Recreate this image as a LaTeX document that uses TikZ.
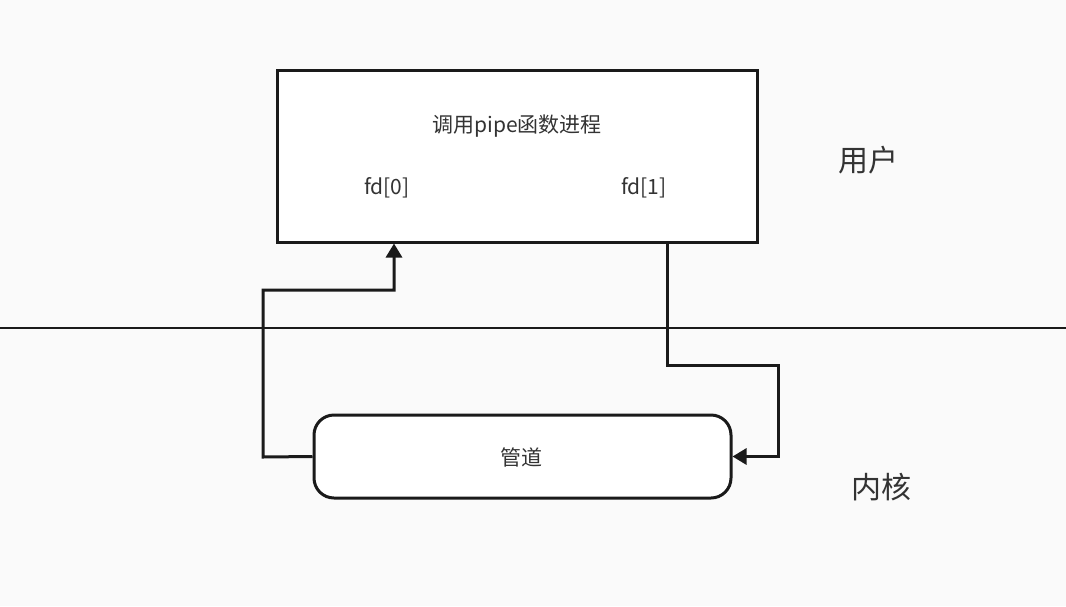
\documentclass[tikz,border=0pt]{standalone}
\usepackage{fontspec}
\setmainfont{Noto Sans CJK SC}
\usetikzlibrary{arrows.meta,positioning,calc}
\definecolor{bgcol}{HTML}{FAFAFA}
\definecolor{inkcol}{HTML}{1A1A1A}
\definecolor{txtcol}{HTML}{333333}

\begin{document}
\begin{tikzpicture}[x=1pt, y=-1pt,
    proc/.style={draw=inkcol, line width=3pt, fill=white, minimum width=480pt, minimum height=172pt},
    pipebox/.style={draw=inkcol, line width=3pt, fill=white, rounded corners=20pt, minimum width=417pt, minimum height=83pt},
    txt/.style={text=txtcol, font=\fontsize{21}{25}\selectfont, inner sep=0pt},
    side/.style={text=txtcol, font=\fontsize{30}{36}\selectfont, inner sep=0pt},
    arr/.style={-{Triangle[length=14pt, width=16pt]}, line width=3pt, draw=inkcol},
    sep/.style={line width=2pt, draw=inkcol}
]
\fill[bgcol] (0,0) rectangle (1066,606);
\useasboundingbox (0,0) rectangle (1066,606);

\node[proc] (P) at (517,156) {};
\node[pipebox] (G) at (522.5,456.5) {};
\node[txt] (T) at (517,126) {调用pipe函数进程};
\node[txt] (F0) at (387,188) {fd[0]};
\node[txt] (F1) at (644,188) {fd[1]};
\node[txt] (GT) at (521,457) {管道};
\node[side] (U) at (868,160) {用户};
\node[side] (K) at (881,487) {内核};

\coordinate (L0) at (0,328);
\coordinate (L1) at (1066,328);
\draw[sep] (L0) -- (L1);

\draw[arr] (G.west) -- (263,457) |- (394,290) -- (P.south -| 394,0);
\draw[arr] (P.south -| 667,0) |- (778,365) |- (G.east);
\end{tikzpicture}
\end{document}
